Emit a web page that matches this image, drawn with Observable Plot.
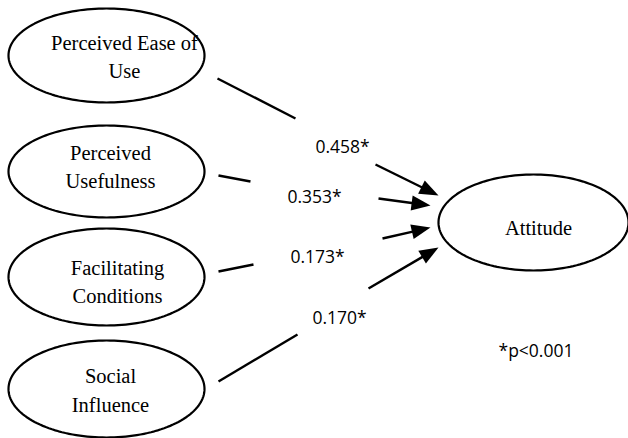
<!DOCTYPE html>
<html>
<head>
<meta charset="utf-8">
<script src="https://cdn.jsdelivr.net/npm/d3@7"></script>
<script src="https://cdn.jsdelivr.net/npm/@observablehq/plot@0.6"></script>
<style>
  html, body { margin: 0; padding: 0; background: #fff; }
  #chart svg { display: block; }
  #chart svg g.nodetext text { font-family: "Liberation Serif", "Times New Roman", Tinos, "DejaVu Serif", serif; }
</style>
</head>
<body>
<div id="chart"></div>
<script>
// ---- data ----
const constructs = ["Perceived Ease of\nUse", "Perceived\nUsefulness", "Facilitating\nConditions", "Social\nInfluence"];
const outcome = "Attitude";
const coefficients = [0.458, 0.353, 0.173, 0.170];
const significanceNote = "*p<0.001";

// ---- layout (diagram coordinates, pixels) ----
const nodeCx = [106, 106, 106, 106, 533];
const nodeCy = [55, 171, 276.5, 388.5, 222];
const nodeRx = [98, 98, 98, 98, 95];
const nodeRy = [47, 46, 48.5, 48.5, 48];
const nodeTextX = [124, 110, 117, 110, 538];
const nodeTextY = [54.5, 164.5, 279.5, 388, 225.5];
const tailStart = [[217, 78], [218, 175], [218, 271], [218, 381]];
const tailEnd = [[295, 118], [250, 181], [253, 264], [297, 334]];
const headStart = [[375, 164], [378, 198], [382, 238], [368, 288]];
const headTip = [[438, 195], [430, 205], [430, 227], [438, 247]];
const coefTextPos = [[315, 146.5], [287, 196.5], [290, 256.5], [312, 317.5]];
const noteTextPos = [498, 350.5];
const headLen = 19, headWidth = 15;

// ---- derived tables ----
const names = [...constructs, outcome];
const nodes = names.map((name, i) => ({name, cx: nodeCx[i], cy: nodeCy[i], rx: nodeRx[i], ry: nodeRy[i], tx: nodeTextX[i], ty: nodeTextY[i]}));
const outline = nodes.flatMap(n => d3.range(0, 160).map(k => {
  const t = (k / 160) * 2 * Math.PI;
  return {name: n.name, x: n.cx + n.rx * Math.cos(t), y: n.cy + n.ry * Math.sin(t)};
}));
const paths = constructs.map((c, i) => {
  const [hx, hy] = headStart[i], [tx, ty] = headTip[i];
  const len = Math.hypot(tx - hx, ty - hy);
  const ux = (tx - hx) / len, uy = (ty - hy) / len;
  return {
    from: c,
    coef: coefficients[i],
    label: d3.format(".3f")(coefficients[i]) + "*",
    lx: coefTextPos[i][0], ly: coefTextPos[i][1],
    ax1: tailStart[i][0], ay1: tailStart[i][1], ax2: tailEnd[i][0], ay2: tailEnd[i][1],
    bx1: hx, by1: hy, bx2: tx - ux * (headLen - 2), by2: ty - uy * (headLen - 2),
    tipX: tx, tipY: ty, angle: Math.atan2(ty - hy, tx - hx) * 180 / Math.PI
  };
});

const arrowHead = {
  draw(context) {
    context.moveTo(0, 0);
    context.lineTo(-headLen, -headWidth / 2);
    context.lineTo(-headLen, headWidth / 2);
    context.closePath();
  }
};

const serif = "'Liberation Serif', 'Times New Roman', Tinos, 'DejaVu Serif', serif";
const chart = Plot.plot({
  width: 628,
  height: 438,
  margin: 0,
  x: {domain: [0, 628], range: [0, 628], axis: null},
  y: {domain: [0, 438], range: [0, 438], axis: null},
  style: {background: "#fff"},
  marks: [
    Plot.line(outline, {x: "x", y: "y", z: "name", curve: "linear-closed", stroke: "#000", strokeWidth: 2.2}),
    Plot.text(nodes, {x: "tx", y: "ty", text: "name", fontFamily: serif, fontSize: 20.5, lineHeight: 1.37, fill: "#000", className: "nodetext"}),
    Plot.link(paths, {x1: "ax1", y1: "ay1", x2: "ax2", y2: "ay2", stroke: "#000", strokeWidth: 2.4}),
    Plot.link(paths, {x1: "bx1", y1: "by1", x2: "bx2", y2: "by2", stroke: "#000", strokeWidth: 2.4}),
    Plot.dot(paths, {x: "tipX", y: "tipY", rotate: "angle", symbol: arrowHead, r: 10, fill: "#000", stroke: "none"}),
    Plot.text(paths, {x: "lx", y: "ly", text: "label", textAnchor: "start", fontFamily: "Open Sans", fontSize: 17.5, fill: "#000"}),
    Plot.text([significanceNote], {x: () => noteTextPos[0], y: () => noteTextPos[1], text: d => d, textAnchor: "start", fontFamily: "Open Sans", fontSize: 17.5, fill: "#000"})
  ]
});
document.getElementById("chart").appendChild(chart);
</script>
</body>
</html>
